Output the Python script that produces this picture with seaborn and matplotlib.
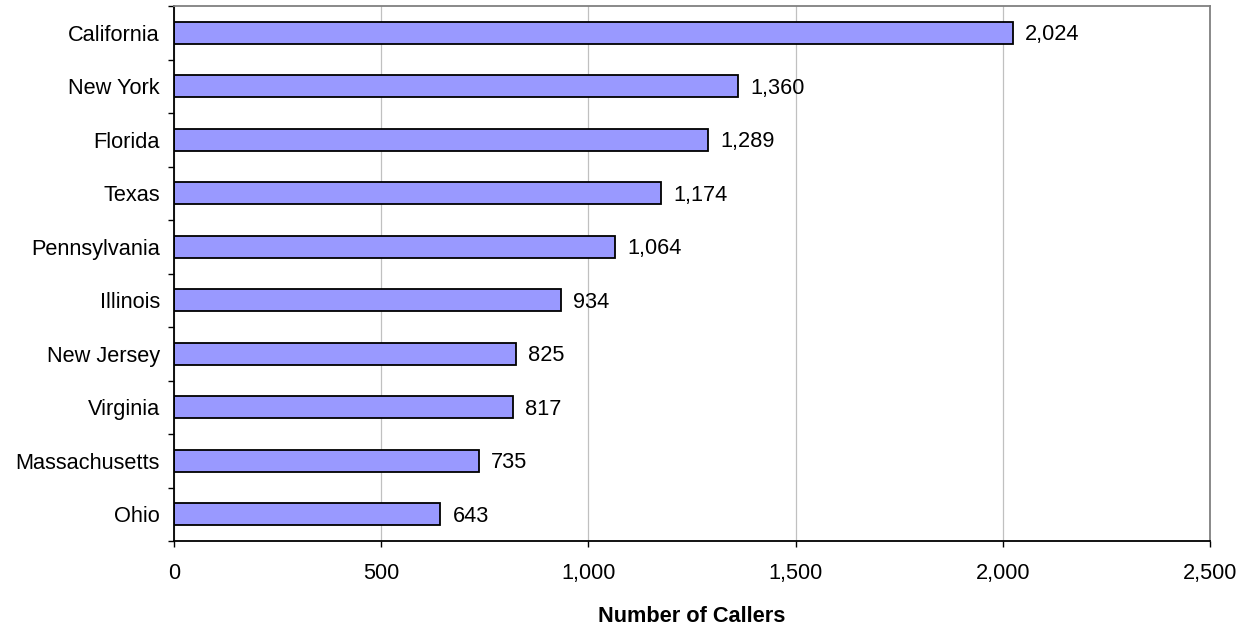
import matplotlib

matplotlib.use("Agg")
import matplotlib.pyplot as plt
import numpy as np
import pandas as pd
import seaborn as sns
from matplotlib.ticker import FuncFormatter, FixedLocator

states = ["California", "New York", "Florida", "Texas", "Pennsylvania",
          "Illinois", "New Jersey", "Virginia", "Massachusetts", "Ohio"]
callers = [2024, 1360, 1289, 1174, 1064, 934, 825, 817, 735, 643]
x_ticks = [0, 500, 1000, 1500, 2000, 2500]

sns.set_theme(style="white")
plt.rcParams["font.family"] = ["Liberation Sans", "DejaVu Sans"]
FS = 15.7

df = pd.DataFrame({"state": states, "callers": callers})

fig = plt.figure(figsize=(12.51, 6.25), dpi=100)
ax = fig.add_axes([174 / 1251, 1 - 541 / 625, (1210 - 174) / 1251, (541 - 6) / 625])

sns.barplot(data=df, y="state", x="callers", orient="h", color="#9999FF",
            edgecolor="black", linewidth=1.3, width=0.42, saturation=1, ax=ax)

for i, v in enumerate(callers):
    ax.text(v + 30, i + 0.04, f"{v:,}", va="center", ha="left", fontsize=FS, color="black")

ax.set_xlim(0, 2500)
ax.set_ylim(len(states) - 0.5, -0.5)
ax.set_xticks(x_ticks)
ax.xaxis.set_major_formatter(FuncFormatter(lambda v, p: f"{int(v):,}"))
ax.grid(axis="x", color="#c0c0c0", lw=0.9)
ax.set_axisbelow(True)

# y ticks sit between categories
ax.yaxis.set_minor_locator(FixedLocator(np.arange(-0.5, len(states), 1)))
ax.tick_params(axis="y", which="major", length=0, pad=10, labelsize=FS, labelcolor="black")
ax.tick_params(axis="y", which="minor", length=4.5, width=1, color="black", left=True)
ax.tick_params(axis="x", length=4.5, width=1, color="black", bottom=True, pad=11,
               labelsize=FS, labelcolor="black")

ax.set_ylabel("")
ax.set_xlabel("Number of Callers", fontsize=FS, fontweight="bold", labelpad=16, color="black")

for side in ["left", "bottom"]:
    ax.spines[side].set_color("black")
    ax.spines[side].set_linewidth(1.3)
for side in ["right", "top"]:
    ax.spines[side].set_color("#808080")
    ax.spines[side].set_linewidth(1.3)

fig.savefig("out.png", dpi=100)
plt.close(fig)
